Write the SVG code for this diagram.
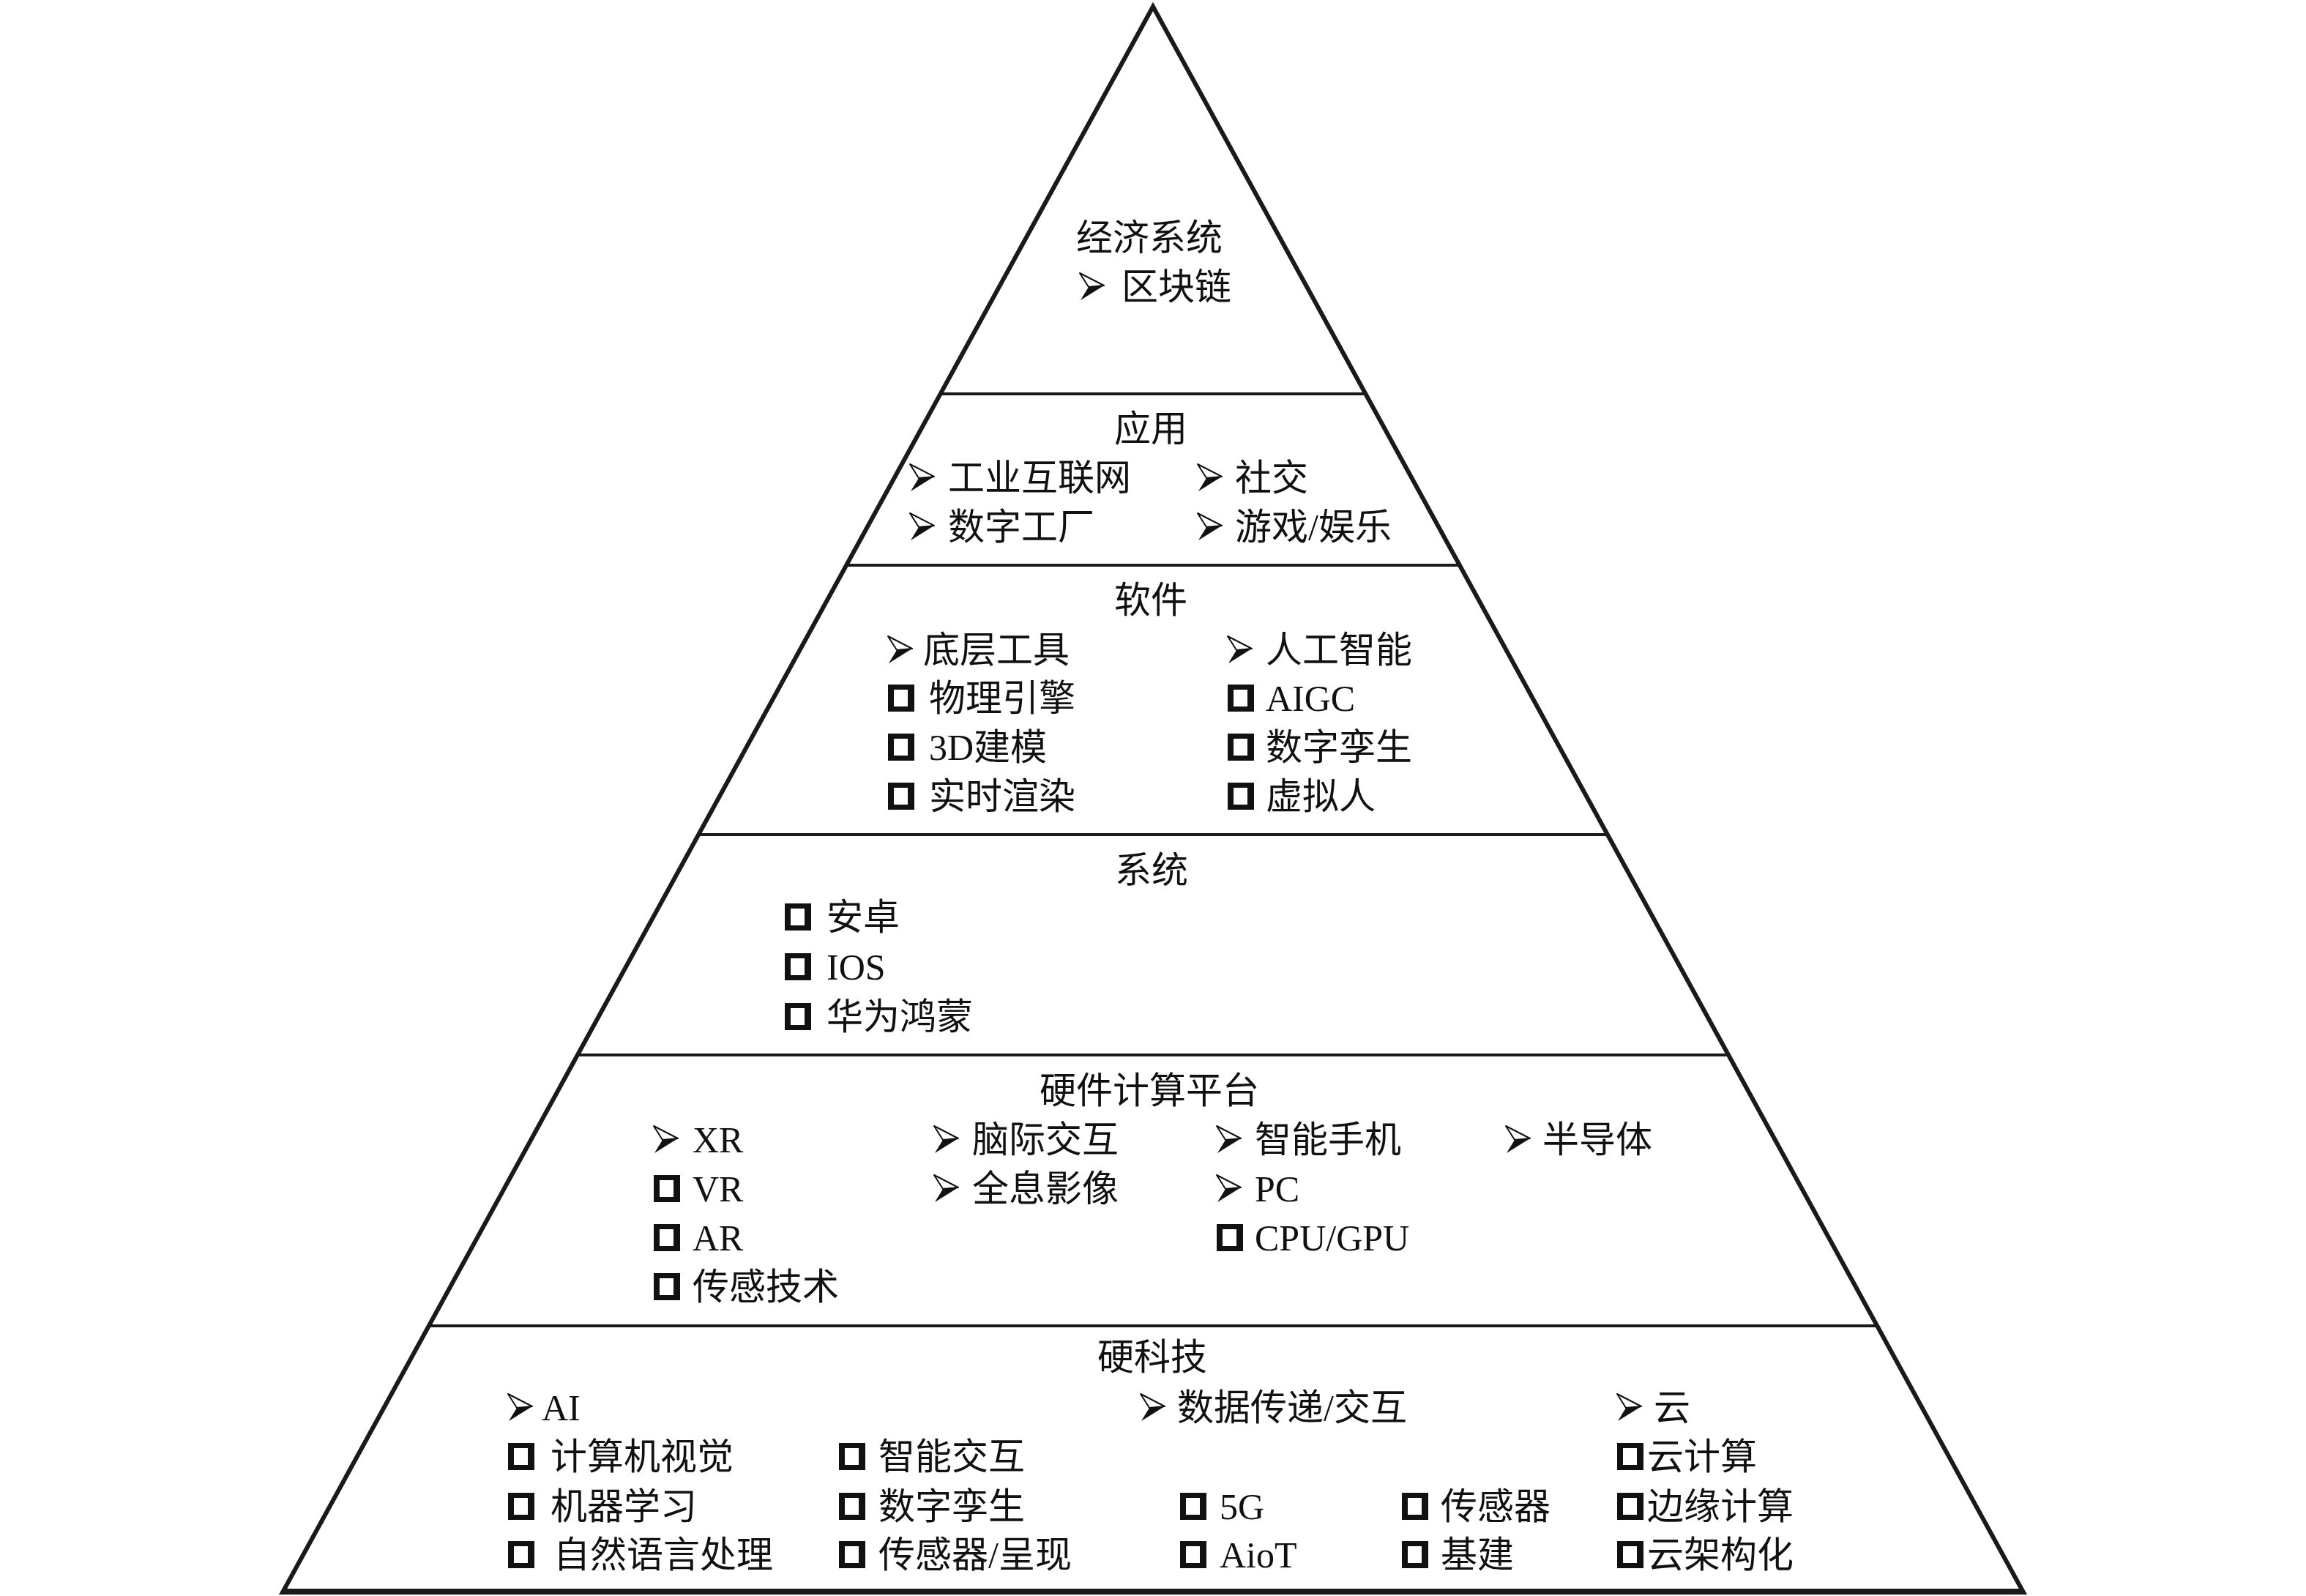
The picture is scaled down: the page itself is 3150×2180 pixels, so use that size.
<svg xmlns="http://www.w3.org/2000/svg" xmlns:xlink="http://www.w3.org/1999/xlink" width="3150" height="2180" viewBox="0 0 3150 2180">
<style>
.t{font-family:"Liberation Serif","Noto Sans CJK SC",serif;font-size:50px;fill:#111}
.c{text-anchor:middle}
.edge{fill:none;stroke:#1a1a1a;stroke-width:6;stroke-linejoin:miter}
.div{stroke:#1a1a1a;stroke-width:4}
</style>
<defs>
<g id="arr">
<path d="M0,-18 L33,-1 L12,1 Z" fill="#fff" stroke="#111" stroke-width="2" stroke-linejoin="round"/>
<path d="M12,1 L33,-1 L1,19 Z" fill="#111"/>
</g>
<g id="sq">
<rect x="0" y="-18" width="36" height="37" fill="#111"/>
<rect x="8" y="-11" width="19" height="23" fill="#fff"/>
</g>
</defs>
<rect width="3150" height="2180" fill="#fff"/>
<g id="pyramid">
<polygon class="edge" points="1575,9 386,2175 2764,2175"/>
<line x1="388" y1="2174" x2="2762" y2="2174" stroke="#1a1a1a" stroke-width="8"/>
<line class="div" x1="1284" y1="538" x2="1866" y2="538"/>
<line class="div" x1="1156" y1="772" x2="1994" y2="772"/>
<line class="div" x1="954" y1="1140" x2="2196" y2="1140"/>
<line class="div" x1="789" y1="1441" x2="2361" y2="1441"/>
<line class="div" x1="586" y1="1811" x2="2564" y2="1811"/>
</g>
<g id="connectors"/>
<g id="layer-economy">
<text class="t c" x="1570" y="342">经济系统</text>
<use xlink:href="#arr" x="1475" y="391"/>
<text class="t" x="1532" y="409">区块链</text>
</g>
<g id="layer-application">
<text class="t c" x="1572" y="603">应用</text>
<use xlink:href="#arr" x="1243" y="652"/><text class="t" x="1295" y="670">工业互联网</text>
<use xlink:href="#arr" x="1636" y="652"/><text class="t" x="1687" y="670">社交</text>
<use xlink:href="#arr" x="1243" y="719"/><text class="t" x="1295" y="737">数字工厂</text>
<use xlink:href="#arr" x="1636" y="719"/><text class="t" x="1687" y="737">游戏/娱乐</text>
</g>
<g id="layer-software">
<text class="t c" x="1572" y="837">软件</text>
<use xlink:href="#arr" x="1213" y="887"/><text class="t" x="1261" y="905">底层工具</text>
<use xlink:href="#arr" x="1677" y="887"/><text class="t" x="1729" y="905">人工智能</text>
<use xlink:href="#sq" x="1213" y="953"/><text class="t" x="1269" y="971">物理引擎</text>
<use xlink:href="#sq" x="1677" y="953"/><text class="t" x="1729" y="971">AIGC</text>
<use xlink:href="#sq" x="1213" y="1020"/><text class="t" x="1269" y="1038">3D建模</text>
<use xlink:href="#sq" x="1677" y="1020"/><text class="t" x="1729" y="1038">数字孪生</text>
<use xlink:href="#sq" x="1213" y="1087"/><text class="t" x="1269" y="1105">实时渲染</text>
<use xlink:href="#sq" x="1677" y="1087"/><text class="t" x="1729" y="1105">虚拟人</text>
</g>
<g id="layer-system">
<text class="t c" x="1573" y="1206">系统</text>
<use xlink:href="#sq" x="1072" y="1252"/><text class="t" x="1129" y="1270">安卓</text>
<use xlink:href="#sq" x="1072" y="1320"/><text class="t" x="1129" y="1338">IOS</text>
<use xlink:href="#sq" x="1072" y="1388"/><text class="t" x="1129" y="1406">华为鸿蒙</text>
</g>
<g id="layer-hardware-platform">
<text class="t c" x="1570" y="1507">硬件计算平台</text>
<use xlink:href="#arr" x="893" y="1556"/><text class="t" x="946" y="1574">XR</text>
<use xlink:href="#arr" x="1276" y="1556"/><text class="t" x="1328" y="1574">脑际交互</text>
<use xlink:href="#arr" x="1662" y="1556"/><text class="t" x="1714" y="1574">智能手机</text>
<use xlink:href="#arr" x="2057" y="1556"/><text class="t" x="2107" y="1574">半导体</text>
<use xlink:href="#sq" x="893" y="1623"/><text class="t" x="946" y="1641">VR</text>
<use xlink:href="#arr" x="1276" y="1623"/><text class="t" x="1328" y="1641">全息影像</text>
<use xlink:href="#arr" x="1662" y="1623"/><text class="t" x="1714" y="1641">PC</text>
<use xlink:href="#sq" x="893" y="1690"/><text class="t" x="946" y="1708">AR</text>
<use xlink:href="#sq" x="1662" y="1690"/><text class="t" x="1714" y="1708">CPU/GPU</text>
<use xlink:href="#sq" x="893" y="1757"/><text class="t" x="946" y="1775">传感技术</text>
</g>
<g id="layer-hard-tech">
<text class="t c" x="1574" y="1871">硬科技</text>
<use xlink:href="#arr" x="694" y="1922"/><text class="t" x="740" y="1940">AI</text>
<use xlink:href="#arr" x="1558" y="1922"/><text class="t" x="1608" y="1940">数据传递/交互</text>
<use xlink:href="#arr" x="2209" y="1922"/><text class="t" x="2259" y="1940">云</text>
<use xlink:href="#sq" x="694" y="1989"/><text class="t" x="752" y="2007">计算机视觉</text>
<use xlink:href="#sq" x="1146" y="1989"/><text class="t" x="1200" y="2007">智能交互</text>
<use xlink:href="#sq" x="2209" y="1989"/><text class="t" x="2250" y="2007">云计算</text>
<use xlink:href="#sq" x="694" y="2057"/><text class="t" x="752" y="2075">机器学习</text>
<use xlink:href="#sq" x="1146" y="2057"/><text class="t" x="1200" y="2075">数字孪生</text>
<use xlink:href="#sq" x="1612" y="2057"/><text class="t" x="1666" y="2075">5G</text>
<use xlink:href="#sq" x="1915" y="2057"/><text class="t" x="1968" y="2075">传感器</text>
<use xlink:href="#sq" x="2209" y="2057"/><text class="t" x="2250" y="2075">边缘计算</text>
<use xlink:href="#sq" x="694" y="2123"/><text class="t" x="756" y="2141">自然语言处理</text>
<use xlink:href="#sq" x="1146" y="2123"/><text class="t" x="1200" y="2141">传感器/呈现</text>
<use xlink:href="#sq" x="1612" y="2123"/><text class="t" x="1666" y="2141">AioT</text>
<use xlink:href="#sq" x="1915" y="2123"/><text class="t" x="1968" y="2141">基建</text>
<use xlink:href="#sq" x="2209" y="2123"/><text class="t" x="2250" y="2141">云架构化</text>
</g>
</svg>
